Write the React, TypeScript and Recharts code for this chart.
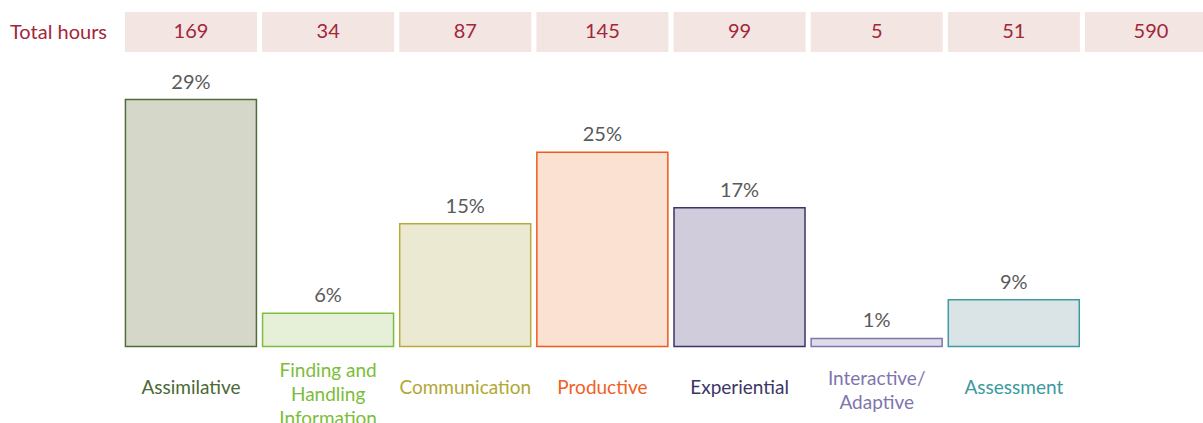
import React from 'react';
import { BarChart, Bar, XAxis, YAxis, Cell, LabelList } from 'recharts';

const categories = [
  'Assimilative',
  'Finding and Handling Information',
  'Communication',
  'Productive',
  'Experiential',
  'Interactive/ Adaptive',
  'Assessment',
  'Total',
];
const categoryLines: string[][] = [
  ['Assimilative'],
  ['Finding and', 'Handling', 'Information'],
  ['Communication'],
  ['Productive'],
  ['Experiential'],
  ['Interactive/', 'Adaptive'],
  ['Assessment'],
  [],
];
const totalHours = [169, 34, 87, 145, 99, 5, 51, 590];
const barValues: (number | null)[] = [29, 3.9, 14.4, 22.8, 16.3, 0.95, 5.5, null];
const percentLabels = ['29%', '6%', '15%', '25%', '17%', '1%', '9%', ''];

const strokeColors = ['#4f6d3a', '#7dbd3d', '#b7ab3c', '#ef5a1c', '#3b3466', '#8074aa', '#3c9ca2', 'none'];
const fillColors = ['#d5d7c9', '#e6f0d9', '#ece9d3', '#fbe1d1', '#d0ccdb', '#dedcea', '#dae3e5', 'none'];
const textColors = ['#4a6934', '#7cbd3a', '#b2a733', '#f0601f', '#3d3566', '#8075ab', '#3a999e', '#000'];

const FONT = 'Lato, "Open Sans", sans-serif';

const data = categories.map((name, i) => ({
  name,
  value: barValues[i],
  label: percentLabels[i],
  hours: totalHours[i],
}));

const HoursTick = (props: any) => {
  const { x, payload } = props;
  const i = categories.indexOf(payload.value);
  return (
    <g>
      <rect x={x - 66} y={12} width={132} height={40} fill="#f3e5e2" />
      <text
        x={x}
        y={30.5}
        dy="0.36em"
        textAnchor="middle"
        fill="#a3263b"
        fontSize={20}
        fontFamily={FONT}
      >
        {totalHours[i]}
      </text>
    </g>
  );
};

const CategoryTick = (props: any) => {
  const { x, y, payload } = props;
  const i = categories.indexOf(payload.value);
  const lines = categoryLines[i] ?? [];
  const lineH = 24;
  const n = lines.length;
  const startY = y + 40.5 - ((n - 1) * lineH) / 2 + (n - 1) * 3.5;
  return (
    <text textAnchor="middle" fill={textColors[i]} fontSize={19} fontFamily={FONT}>
      {lines.map((l, k) => (
        <tspan key={k} x={x} y={startY + k * lineH} dy="0.36em">
          {l}
        </tspan>
      ))}
    </text>
  );
};

export default function App() {
  return (
    <div
      style={{
        position: 'fixed',
        left: 0,
        top: 0,
        width: 1203,
        height: 423,
        overflow: 'hidden',
        background: '#fff',
      }}
    >
      <div
        style={{
          position: 'absolute',
          left: 10,
          top: 31,
          transform: 'translateY(-50%)',
          color: '#a3263b',
          fontSize: 20,
          fontFamily: FONT,
          whiteSpace: 'nowrap',
        }}
      >
        Total hours
      </div>
      <BarChart
        width={1230}
        height={440}
        data={data}
        margin={{ top: 0, right: 10.43, bottom: 0, left: 122.43 }}
        style={{ position: 'absolute', left: 0, top: 0 }}
      >
        <XAxis
          xAxisId="top"
          orientation="top"
          dataKey="name"
          height={91}
          axisLine={false}
          tickLine={false}
          interval={0}
          tick={<HoursTick />}
        />
        <XAxis
          xAxisId="bottom"
          dataKey="name"
          height={93.5}
          axisLine={false}
          tickLine={false}
          tickSize={0}
          tickMargin={0}
          interval={0}
          tick={<CategoryTick />}
        />
        <YAxis hide domain={[0, 30]} />
        <Bar
          xAxisId="bottom"
          dataKey="value"
          barSize={131}
          strokeWidth={1.5}
          isAnimationActive={false}
        >
          {data.map((d, i) => (
            <Cell key={i} fill={fillColors[i]} stroke={strokeColors[i]} />
          ))}
          <LabelList
            dataKey="label"
            position="top"
            offset={11}
            fill="#5a5a5a"
            fontSize={20}
            fontFamily={FONT}
          />
        </Bar>
      </BarChart>
    </div>
  );
}
